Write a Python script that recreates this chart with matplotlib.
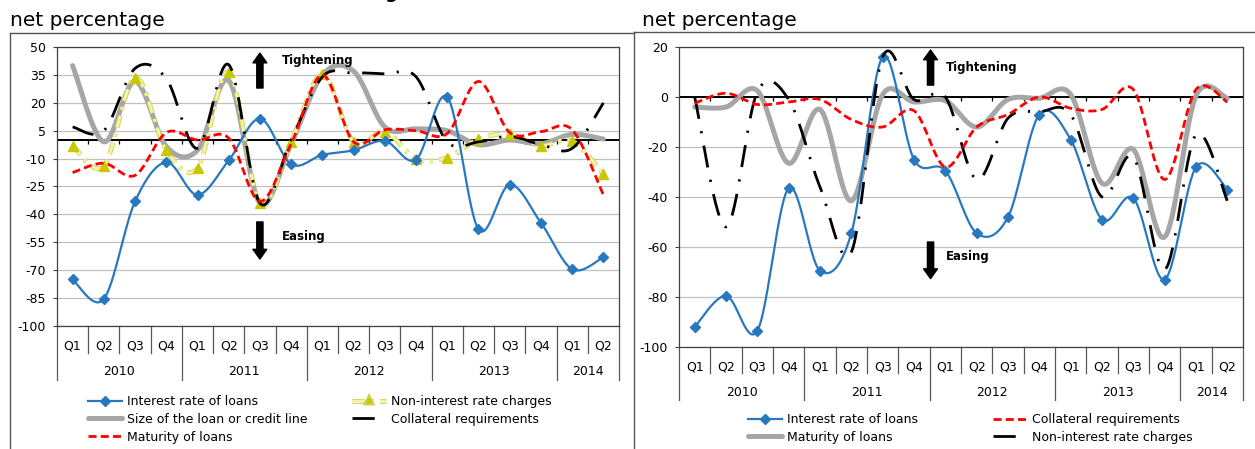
import matplotlib
matplotlib.use("Agg")
import matplotlib.pyplot as plt
import matplotlib.patheffects as pe
from matplotlib.lines import Line2D
import numpy as np

plt.rcParams["font.family"] = ["DejaVu Sans"]
plt.rcParams["axes.unicode_minus"] = False

W, H = 1255, 449

quarter_labels = ["Q1", "Q2", "Q3", "Q4"] * 4 + ["Q1", "Q2"]
year_labels = ["2010", "2011", "2012", "2013", "2014"]
year_sizes = [4, 4, 4, 4, 2]

# left panel (net percentage, -100..50)
left_interest = [-75, -85.5, -33, -12, -29.5, -11, 11.5, -13, -8, -5.5, -0.5, -10.5,
                 23, -48, -24, -44.5, -69.5, -63]
left_non_interest = [-3, -14, 33.5, -5.5, -15, 36.5, -34, -1, 35.5, -1, 4.5, -10,
                     -9.5, 0.5, 3, -3, -0.5, -18.5]
left_size = [40, -1, 31.5, -3.5, -5.5, 32, -34, -2, 35, 37, 7, 6,
             5, -2.5, 0, -2, 3, 0.5]
left_maturity = [-17.5, -12.5, -19, 4, 0, 1, -33, -2, 35, -1, 5.5, 5,
                 3.5, 31.5, 4, 4.5, 5.5, -29.5]
left_collateral = [7, 5, 38.5, 33, -4.5, 40.5, -34, 0, 34, 36, 35.5, 34,
                   -1, -1, 2, -2.5, -4.5, 20]

# right panel (net percentage, -100..20)
right_interest = [-92, -79.5, -93.5, -36.5, -69.5, -54.5, 16, -25, -29.5, -54.5, -48, -7,
                  -17, -49, -40.5, -73, -28, -37]
right_collateral = [-2.5, 1.5, -3, -2, -1, -9, -12, -5.5, -28, -12, -7, 0,
                    -4.5, -5, 3, -33, 3, -2]
right_maturity = [-4, -4, 2.5, -26.5, -5, -41.5, 1, -2, -1.5, -12, -1, -0.5,
                  1, -34.5, -21, -56, 0.5, -0.5]
right_non_interest = [0, -52, 2, -1, -36, -62, 16, -1, 0, -33, -8.5, -6,
                      -7, -40, -24, -69, -15, -41.5]

BLUE = "#2878c0"
RED = "#ff0000"
GREY = "#a6a6a6"
YELLOW_LINE = "#f2f2a8"
YELLOW_EDGE = "#cfcf50"
YELLOW_MARK = "#c8c800"

STYLES = {
    "interest": dict(line=dict(color=BLUE, lw=1.6), marker="D", ms=5.5, mc=BLUE, hms=5.5),
    "maturity": dict(line=dict(color=RED, lw=2.0, linestyle=(0, (2.9, 1.5)))),
    "grey": dict(line=dict(color=GREY, lw=3.6, solid_capstyle="round")),
    "dashdot": dict(line=dict(color="black", lw=2.0, linestyle=(0, (8, 4.5, 0.8, 4.5)))),
    "yellow": dict(line=dict(color=YELLOW_LINE, lw=2.2, linestyle=(0, (4, 2, 1, 2)),
                             path_effects=[pe.Stroke(linewidth=3.4, foreground=YELLOW_EDGE),
                                           pe.Normal()]),
                   marker="^", ms=7.5, mc=YELLOW_MARK, hms=3.5),
}


def smooth(values, n=30):
    """Excel-like smoothed line: cubic Bezier with 1/6 tangent control points."""
    y = np.asarray(values, dtype=float)
    x = np.arange(len(y), dtype=float)
    px = np.concatenate([[x[0]], x, [x[-1]]])
    py = np.concatenate([[y[0]], y, [y[-1]]])
    t = np.linspace(0, 1, n, endpoint=False)
    xs, ys = [], []
    for i in range(len(y) - 1):
        for p, out in ((px, xs), (py, ys)):
            p0, p1, p2, p3 = p[i], p[i + 1], p[i + 2], p[i + 3]
            c1 = p1 + (p2 - p0) / 6
            c2 = p2 - (p3 - p1) / 6
            out.append((1 - t) ** 3 * p1 + 3 * (1 - t) ** 2 * t * c1
                       + 3 * (1 - t) * t ** 2 * c2 + t ** 3 * p2)
    xs.append([x[-1]])
    ys.append([y[-1]])
    return np.concatenate(xs), np.concatenate(ys)


def plot_series(ax, values, style_key, z):
    st = STYLES[style_key]
    xs, ys = smooth(values)
    ax.plot(xs, ys, zorder=z, **st["line"])
    handle_kw = dict(st["line"])
    if "marker" in st:
        ax.plot(np.arange(len(values)), values, linestyle="none", marker=st["marker"],
                ms=st["ms"], color=st["mc"], zorder=z + 0.1)
        handle_kw.update(marker=st["marker"], ms=st["hms"], mfc=st["mc"], mec=st["mc"])
    return Line2D([], [], **handle_kw)


def setup_axes(ax, ylim, step, tick_len_data, q_depth, y_depth, q_y, yr_y):
    n = len(quarter_labels)
    ax.set_xlim(-0.5, n - 0.5)
    ax.set_ylim(*ylim)
    ax.set_yticks(np.arange(ylim[0], ylim[1] + 1, step))
    ax.set_xticks([])
    ax.tick_params(axis="y", labelsize=9, length=3, pad=5, color="#404040")
    ax.grid(True, axis="y", color="#c0c0c0", lw=0.9)
    ax.set_axisbelow(True)
    for sp in ax.spines.values():
        sp.set_color("#404040")
        sp.set_linewidth(0.9)
    ax.axhline(0, color="black", lw=1.4, zorder=1.5)
    bounds = np.arange(n + 1) - 0.5
    ax.vlines(bounds[1:-1], -tick_len_data, 0, color="black", lw=0.9, zorder=1.5)

    trans = ax.get_xaxis_transform()
    year_edges = np.concatenate([[0], np.cumsum(year_sizes)])
    for b, xb in enumerate(bounds):
        depth = y_depth if b in year_edges else q_depth
        ax.plot([xb, xb], [0, -depth], transform=trans, color="#595959", lw=0.9,
                clip_on=False)
    for i, q in enumerate(quarter_labels):
        ax.text(i, q_y, q, transform=trans, ha="center", va="center", fontsize=9)
    for k, yr in enumerate(year_labels):
        center = (year_edges[k] + year_edges[k + 1]) / 2 - 0.5
        ax.text(center, yr_y, yr, transform=trans, ha="center", va="center", fontsize=9)


def add_direction_arrows(ax, x_arrow, up, down, x_text, tight_y, ease_y):
    arrow = dict(width=4.5, headwidth=10, headlength=7, color="black", shrink=0)
    ax.annotate("", xy=(x_arrow, up[1]), xytext=(x_arrow, up[0]),
                xycoords="axes fraction", arrowprops=arrow)
    ax.annotate("", xy=(x_arrow, down[1]), xytext=(x_arrow, down[0]),
                xycoords="axes fraction", arrowprops=arrow)
    ax.text(x_text, tight_y, "Tightening", transform=ax.transAxes, fontsize=8.5,
            fontweight="bold", va="center", ha="left")
    ax.text(x_text, ease_y, "Easing", transform=ax.transAxes, fontsize=8.5,
            fontweight="bold", va="center", ha="left")


fig = plt.figure(figsize=(W / 100, H / 100), dpi=100)

# outer frames
frame_kw = dict(color="#555555", lw=1.0, transform=fig.transFigure)
fig.add_artist(Line2D([10 / W, 634 / W], [1 - 33 / H, 1 - 33 / H], **frame_kw))
fig.add_artist(Line2D([634 / W, 1], [1 - 32 / H, 1 - 32 / H], **frame_kw))
fig.add_artist(Line2D([10 / W, 10 / W], [0, 1 - 33 / H], **frame_kw))
fig.add_artist(Line2D([634 / W, 634 / W], [0, 1 - 32 / H], **frame_kw))

# heading above the left panel is cropped at the top edge in the reference
fig.text(362 / W, 1 + 1.5 / H, "(right)", fontsize=13, fontweight="bold", va="baseline")
fig.text(10 / W, 1 - 26 / H, "net percentage", fontsize=14.5, va="baseline")
fig.text(642 / W, 1 - 26 / H, "net percentage", fontsize=14.5, va="baseline")

# ---------- left panel ----------
axL = fig.add_axes([57 / W, 1 - 326 / H, 562 / W, 279 / H])
setup_axes(axL, (-100, 50), 15, 2.2, 27 / 279, 54 / 279, -20 / 279, -45.5 / 279)
hL_size = plot_series(axL, left_size, "grey", 2)
hL_non = plot_series(axL, left_non_interest, "yellow", 3)
hL_int = plot_series(axL, left_interest, "interest", 4)
hL_col = plot_series(axL, left_collateral, "dashdot", 5)
hL_mat = plot_series(axL, left_maturity, "maturity", 6)
add_direction_arrows(axL, 0.361, (0.853, 0.978), (0.373, 0.240), 0.40, 0.953, 0.319)

fig.legend([hL_int, hL_size, hL_mat, hL_non, hL_col],
           ["Interest rate of loans", "Size of the loan or credit line", "Maturity of loans",
            "Non-interest rate charges", "Collateral requirements"],
           ncol=2, loc="upper left", bbox_to_anchor=(88 / W, 1 - 395 / H),
           frameon=False, fontsize=9, handlelength=2.7, handletextpad=0.4,
           columnspacing=3.6, labelspacing=0.38, borderpad=0, borderaxespad=0)

# ---------- right panel ----------
axR = fig.add_axes([679 / W, 1 - 347 / H, 564 / W, 300 / H])
setup_axes(axR, (-100, 20), 20, 1.6, 26 / 300, 53 / 300, -20 / 300, -45 / 300)
hR_mat = plot_series(axR, right_maturity, "grey", 2)
hR_int = plot_series(axR, right_interest, "interest", 3)
hR_non = plot_series(axR, right_non_interest, "dashdot", 4)
hR_col = plot_series(axR, right_collateral, "maturity", 5)
add_direction_arrows(axR, 0.446, (0.873, 0.99), (0.35, 0.228), 0.474, 0.93, 0.303)

fig.legend([hR_int, hR_mat, hR_col, hR_non],
           ["Interest rate of loans", "Maturity of loans",
            "Collateral requirements", "Non-interest rate charges"],
           ncol=2, loc="upper left", bbox_to_anchor=(748 / W, 1 - 413 / H),
           frameon=False, fontsize=9, handlelength=2.7, handletextpad=0.4,
           columnspacing=6.0, labelspacing=0.38, borderpad=0, borderaxespad=0)

fig.savefig("out.png", dpi=100)
